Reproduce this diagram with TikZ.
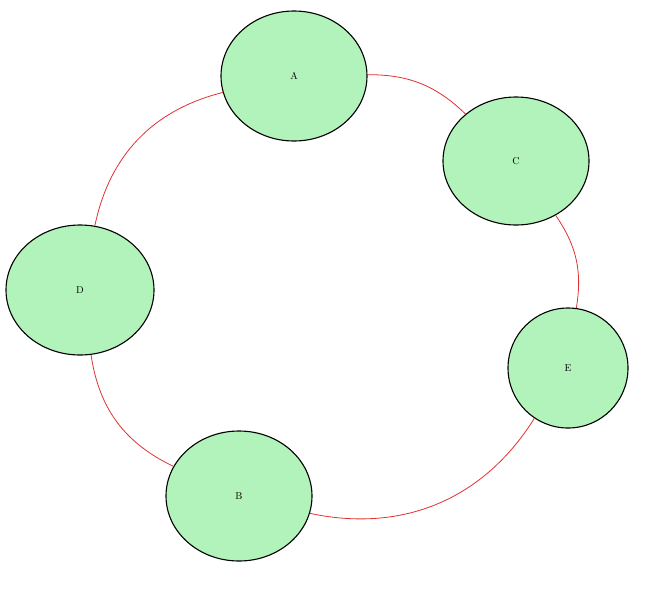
\documentclass[tikz,border=0pt]{standalone}
\usetikzlibrary{shapes.geometric}
\begin{document}
\begin{tikzpicture}[x=1pt,y=-1pt,
  nd/.style={ellipse,draw=black,line width=1.1pt,fill={rgb,255:red,178;green,242;blue,187},inner sep=0pt},
  ln/.style={draw={rgb,255:red,224;green,49;blue,49},line width=0.8pt}]
\useasboundingbox (0,0) rectangle (650,592);
\node[nd,minimum width=146pt,minimum height=130pt] (A) at (294,76) {A};
\node[nd,minimum width=146pt,minimum height=128pt] (C) at (516,161) {C};
\node[nd,minimum width=120pt,minimum height=120pt] (E) at (568,368) {E};
\node[nd,minimum width=146pt,minimum height=130pt] (B) at (239,496) {B};
\node[nd,minimum width=148pt,minimum height=130pt] (D) at (80,290) {D};
\draw[ln] (A) to[bend left=22] (C);
\draw[ln] (C) to[bend left=22] (E);
\draw[ln] (E) to[bend left=35] (B);
\draw[ln] (B) to[bend left=28] (D);
\draw[ln] (D) to[bend left=32] (A);
\end{tikzpicture}
\end{document}
